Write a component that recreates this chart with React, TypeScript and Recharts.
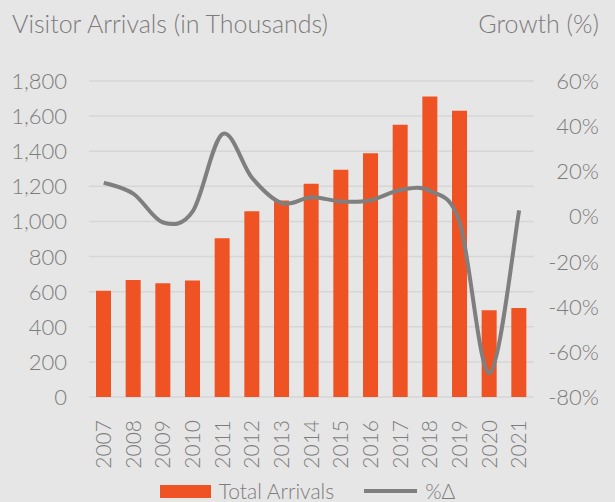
import React from "react";
import {
  ComposedChart,
  Bar,
  Line,
  XAxis,
  YAxis,
  CartesianGrid,
  Legend,
} from "recharts";

const years = [
  "2007", "2008", "2009", "2010", "2011", "2012", "2013", "2014",
  "2015", "2016", "2017", "2018", "2019", "2020", "2021",
];
const arrivals = [
  605, 666, 648, 663, 904, 1058, 1120, 1215, 1295, 1388, 1551, 1711, 1631, 494, 507,
];
const growth = [
  15, 10, -2.7, 2.3, 36.5, 17, 5.9, 8.5, 6.6, 7.2, 11.7, 11.3, -3, -69.5, 2.7,
];
const leftTicks = [0, 200, 400, 600, 800, 1000, 1200, 1400, 1600, 1800];
const rightTicks = [-80, -60, -40, -20, 0, 20, 40, 60];

const data = years.map((year, i) => ({
  year,
  arrivals: arrivals[i],
  growth: growth[i],
}));

const BG = "#e7e6e6";
const ORANGE = "#ef5323";
const GREY = "#7f7f7f";
const TEXT = "#7c7c7c";
const FONT = "Lato, 'Noto Sans', sans-serif";
const WEIGHT = 300;

// smooth line like Excel's (Catmull-Rom as cubic beziers)
const smoothCurve = (context: any) => {
  let pts: number[][] = [];
  return {
    areaStart() {},
    areaEnd() {},
    lineStart() {
      pts = [];
    },
    point(x: number, y: number) {
      pts.push([+x, +y]);
    },
    lineEnd() {
      if (!pts.length) return;
      context.moveTo(pts[0][0], pts[0][1]);
      for (let i = 0; i < pts.length - 1; i++) {
        const p0 = pts[i - 1] || pts[i];
        const p1 = pts[i];
        const p2 = pts[i + 1];
        const p3 = pts[i + 2] || p2;
        context.bezierCurveTo(
          p1[0] + (p2[0] - p0[0]) / 6,
          p1[1] + (p2[1] - p0[1]) / 6,
          p2[0] - (p3[0] - p1[0]) / 6,
          p2[1] - (p3[1] - p1[1]) / 6,
          p2[0],
          p2[1]
        );
      }
    },
  };
};

const LeftTick = (props: any) => (
  <text x={67} y={props.y} dy={8} textAnchor="end" fill={TEXT} fontSize={22} fontWeight={WEIGHT} fontFamily={FONT}>
    {props.payload.value.toLocaleString("en-US")}
  </text>
);

const RightTick = (props: any) => (
  <text x={599} y={props.y} dy={8} textAnchor="end" fill={TEXT} fontSize={22} fontWeight={WEIGHT} fontFamily={FONT}>
    {props.payload.value}%
  </text>
);

const YearTick = (props: any) => (
  <text
    x={props.x + 7}
    y={props.y + 15}
    transform={`rotate(-90, ${props.x + 7}, ${props.y + 15})`}
    textAnchor="end"
    fill={TEXT}
    fontSize={21}
    fontWeight={WEIGHT}
    fontFamily={FONT}
  >
    {props.payload.value}
  </text>
);

const LegendContent = () => (
  <div
    style={{
      display: "flex",
      justifyContent: "center",
      alignItems: "center",
      fontFamily: FONT,
      fontWeight: WEIGHT,
      fontSize: 21,
      lineHeight: "22px",
      paddingTop: 11,
      color: TEXT,
      gap: 8,
    }}
  >
    <span style={{ width: 51, height: 13, background: ORANGE, display: "inline-block" }} />
    <span style={{ marginRight: 22 }}>Total Arrivals</span>
    <span style={{ width: 53, height: 4, background: GREY, display: "inline-block" }} />
    <span>%Δ</span>
  </div>
);

export default function App() {
  return (
    <div
      style={{
        position: "fixed",
        left: 0,
        top: 0,
        width: 615,
        height: 502,
        background: BG,
        overflow: "hidden",
      }}
    >
      <div
        style={{
          position: "absolute",
          left: 12,
          top: 8,
          fontFamily: FONT,
          fontWeight: WEIGHT,
          fontSize: 25,
          color: TEXT,
        }}
      >
        Visitor Arrivals (in Thousands)
      </div>
      <div
        style={{
          position: "absolute",
          right: 16,
          top: 8,
          fontFamily: FONT,
          fontWeight: WEIGHT,
          fontSize: 25,
          color: TEXT,
        }}
      >
        Growth (%)
      </div>
      <ComposedChart
        width={615}
        height={502}
        data={data}
        margin={{ top: 81, right: 0, bottom: 0, left: 0 }}
        barSize={15}
      >
        <CartesianGrid
          vertical={false}
          yAxisId="left"
          stroke="#d6d6d6"
          strokeWidth={1.5}
        />
        <XAxis
          dataKey="year"
          axisLine={false}
          tickLine={false}
          interval={0}
          height={72}
          tick={<YearTick />}
        />
        <YAxis
          yAxisId="left"
          orientation="left"
          width={89}
          domain={[0, 1800]}
          ticks={leftTicks}
          axisLine={false}
          tickLine={false}
          tick={<LeftTick />}
        />
        <YAxis
          yAxisId="right"
          orientation="right"
          width={81}
          domain={[-80, 60]}
          ticks={rightTicks}
          axisLine={false}
          tickLine={false}
          tick={<RightTick />}
        />
        <Legend verticalAlign="bottom" height={33} content={<LegendContent />} />
        <Bar
          yAxisId="left"
          dataKey="arrivals"
          name="Total Arrivals"
          fill={ORANGE}
          isAnimationActive={false}
        />
        <Line
          yAxisId="right"
          dataKey="growth"
          name="%Δ"
          type={smoothCurve as any}
          stroke={GREY}
          strokeWidth={4}
          dot={false}
          isAnimationActive={false}
        />
      </ComposedChart>
    </div>
  );
}
